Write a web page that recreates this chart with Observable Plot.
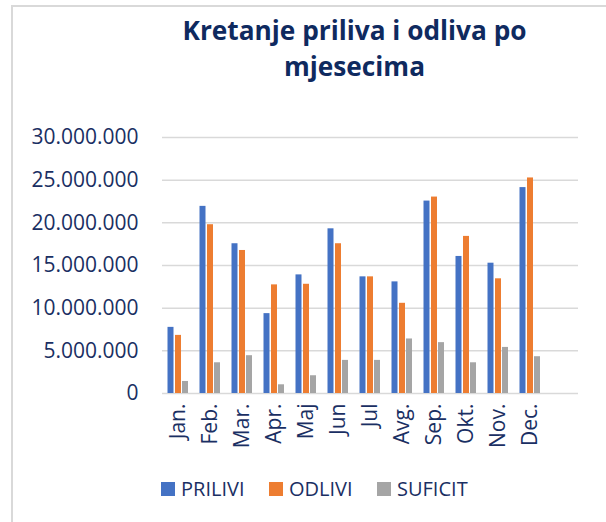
<!DOCTYPE html>
<html><head><meta charset="utf-8">
<script src="https://cdn.jsdelivr.net/npm/d3@7"></script>
<script src="https://cdn.jsdelivr.net/npm/@observablehq/plot@0.6"></script>
<style>
body{margin:0;background:#fff;}
#wrap{position:relative;width:606px;height:522px;overflow:hidden;font-family:"Open Sans",sans-serif;background:#fff;}
#frame{position:absolute;left:11px;top:5px;right:-5px;bottom:-5px;border-left:2px solid #d9d9d9;border-top:2px solid #d9d9d9;}
#title{position:absolute;left:0;width:709px;top:12px;text-align:center;font-family:"Open Sans",sans-serif;font-weight:bold;font-size:26px;line-height:36px;color:#0f2a5f;white-space:nowrap;}
#chart{position:absolute;left:0;top:110px;}
#legend{position:absolute;left:161px;top:475px;display:flex;}
.item{display:flex;align-items:center;width:108px;font-size:20px;color:#1a2f63;}
.sw{width:14px;height:14px;margin-right:6px;}
</style></head>
<body>
<div id="wrap">
  <div id="frame"></div>
  <div id="title"><span id="t1">Kretanje priliva i odliva po</span><br><span>mjesecima</span></div>
  <div id="chart"></div>
  <div id="legend"></div>
</div>
<script>
const months = ["Jan.","Feb.","Mar.","Apr.","Maj","Jun","Jul","Avg.","Sep.","Okt.","Nov.","Dec."];
const prilivi = [7750000,21930000,17550000,9360000,13900000,19300000,13670000,13080000,22550000,16060000,15270000,24130000];
const odlivi  = [6810000,19780000,16760000,12730000,12800000,17550000,13670000,10570000,23020000,18410000,13440000,25260000];
const suficit = [1410000,3600000,4430000,1020000,2080000,3880000,3880000,6390000,5960000,3600000,5400000,4310000];
const yTicks = [0,5000000,10000000,15000000,20000000,25000000,30000000];
const seriesNames = ["PRILIVI","ODLIVI","SUFICIT"];
const seriesColors = ["#4472C4","#ED7D31","#A5A5A5"];

const navy = "#1a2f63";
const rows = months.map((m,i)=>({month:m, PRILIVI:prilivi[i], ODLIVI:odlivi[i], SUFICIT:suficit[i]}));
const fmt = d3.formatLocale({decimal:",",thousands:".",grouping:[3],currency:["",""]}).format(",d");
const offsets = [-7.5, 0, 7];

const chart = Plot.plot({
  width: 606, height: 350,
  marginLeft: 162, marginRight: 28, marginTop: 27, marginBottom: 67,
  x: {domain: months, range: [162, 546], paddingInner: 0.8125, paddingOuter: 0.40625},
  y: {domain: [0, 30000000], range: [283, 27]},
  style: {fontFamily: "'Open Sans', sans-serif", color: navy, background: "transparent", overflow: "visible"},
  marks: [
    Plot.ruleY(yTicks, {stroke: "#d9d9d9", strokeWidth: 1.5}),
    ...seriesNames.map((s, k) => Plot.barY(rows, {x: "month", y: s, fill: seriesColors[k], dx: offsets[k]})),
    Plot.axisY({ticks: yTicks, tickFormat: fmt, tickSize: 0, tickPadding: 24, fontSize: 21, label: null}),
    Plot.axisX({tickSize: 0, tickPadding: 10, tickRotate: -90, fontSize: 21, label: null})
  ]
});
document.getElementById("chart").appendChild(chart);

// fit the title's first line to the reference width (~344px)
const title = document.getElementById("title");
const w = document.getElementById("t1").getBoundingClientRect().width;
if (w > 0) title.style.fontSize = (26 * 344 / w).toFixed(2) + "px";

const legend = document.getElementById("legend");
seriesNames.forEach((s, k) => {
  const it = document.createElement("div"); it.className = "item";
  const sw = document.createElement("span"); sw.className = "sw"; sw.style.background = seriesColors[k];
  const tx = document.createElement("span"); tx.textContent = s;
  it.appendChild(sw); it.appendChild(tx); legend.appendChild(it);
});
</script>
</body></html>
